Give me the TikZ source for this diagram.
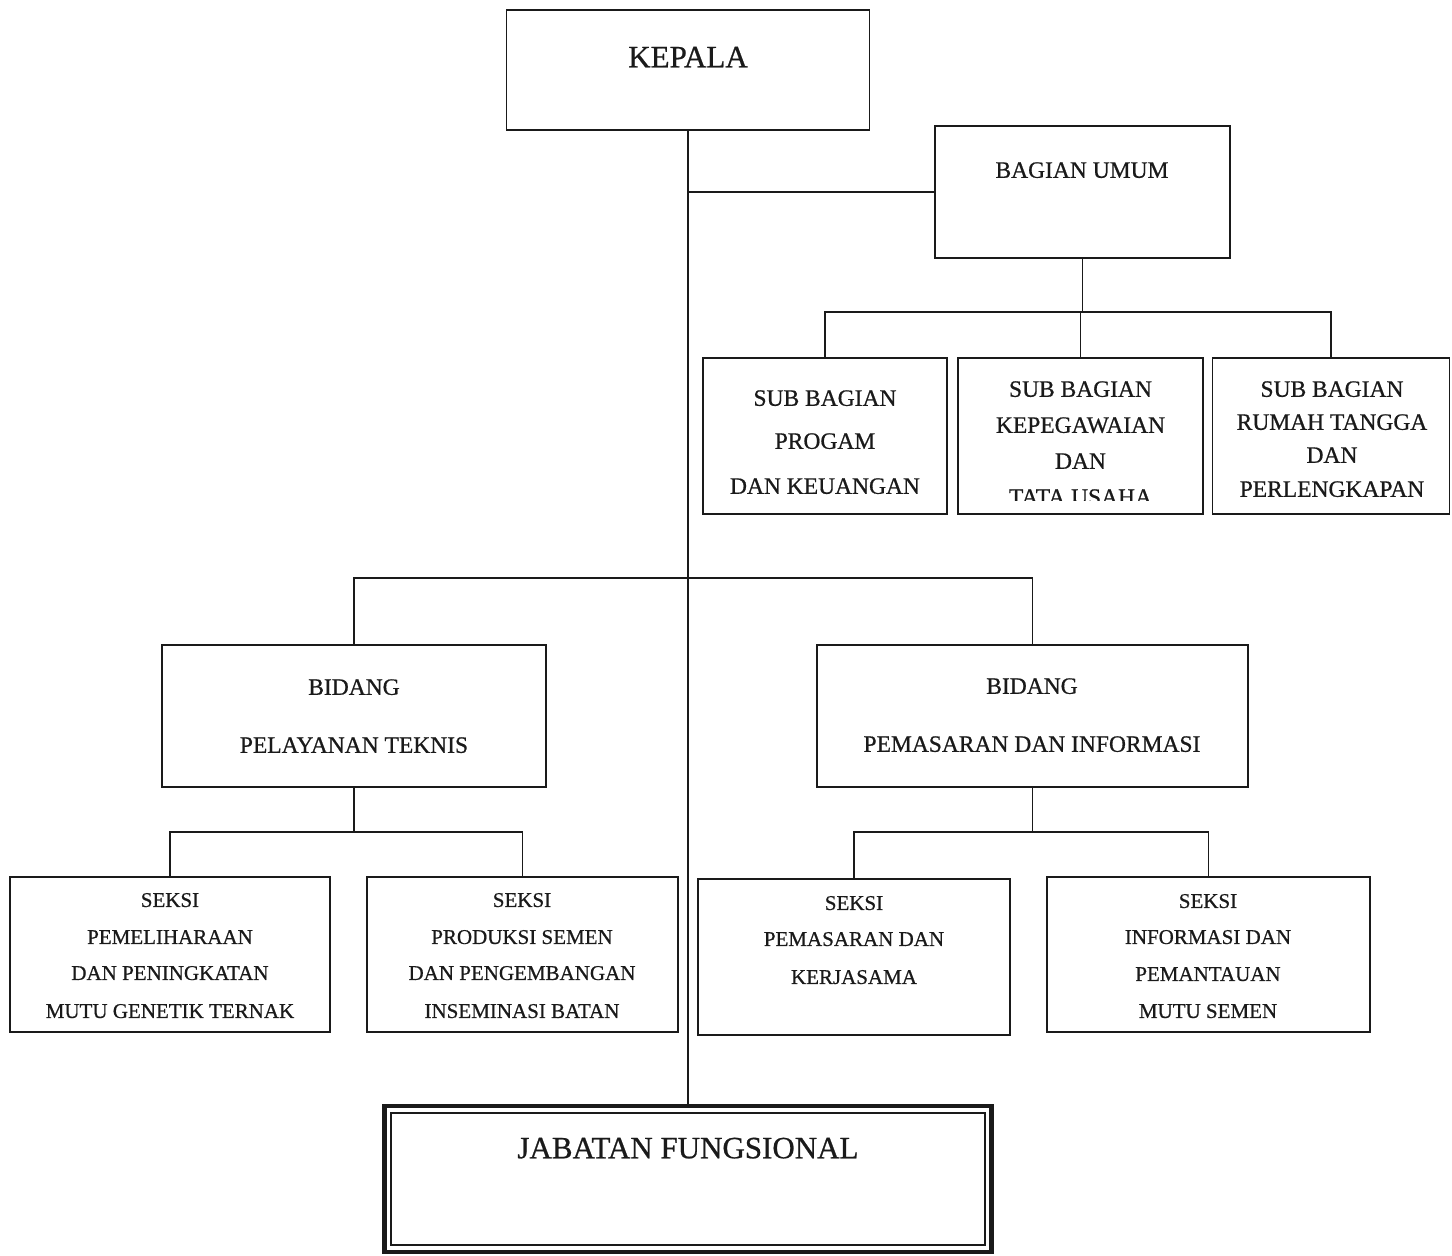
\documentclass[tikz,border=0pt]{standalone}
\usepackage{fontspec}
\setmainfont{Liberation Serif}[BoldFont=Liberation Serif,BoldFeatures={FakeBold=0.7}]
\definecolor{ink}{HTML}{1A1A1A}
\begin{document}
\begin{tikzpicture}[x=1pt,y=-1pt,
  box/.style={draw=ink,line width=1.8pt,rectangle,inner sep=0pt},
  conn/.style={draw=ink,line width=1.8pt},
  big/.style={inner sep=0pt,text=ink,text height=20.5pt,text depth=0pt,font=\fontsize{31}{31}\selectfont\bfseries},
  mid/.style={inner sep=0pt,text=ink,text height=15.6pt,text depth=0pt,font=\fontsize{23.5}{23.5}\selectfont\bfseries},
  sml/.style={inner sep=0pt,text=ink,text height=13.9pt,text depth=0pt,font=\fontsize{21}{21}\selectfont\bfseries}]
\useasboundingbox (0,0) rectangle (1452,1256);
% boxes
\node[box,minimum width=363pt,minimum height=120pt] (kepala) at (688,70) {};
\node[box,minimum width=295pt,minimum height=132pt] (umum) at (1082.5,192) {};
\node[box,minimum width=244pt,minimum height=156pt] (sb1) at (825,436) {};
\node[box,minimum width=245pt,minimum height=156pt] (sb2) at (1080.5,436) {};
\node[box,minimum width=237pt,minimum height=156pt] (sb3) at (1331,436) {};
\node[box,minimum width=384pt,minimum height=142pt] (bpt) at (354,716) {};
\node[box,minimum width=431pt,minimum height=142pt] (bpi) at (1032.5,716) {};
\node[box,minimum width=320pt,minimum height=155pt] (s1) at (170,954.5) {};
\node[box,minimum width=311pt,minimum height=155pt] (s2) at (522.5,954.5) {};
\node[box,minimum width=312pt,minimum height=156pt] (s3) at (854,957) {};
\node[box,minimum width=323pt,minimum height=155pt] (s4) at (1208.5,954.5) {};
\node[box,line width=4.5pt,minimum width=607pt,minimum height=146pt] (jab) at (688,1179) {};
\draw[ink,line width=1.8pt] ([shift={(9,9)}]jab.north west) rectangle ([shift={(-9,-9)}]jab.south east);
% junction coordinates
\coordinate (j1) at (1082.5,312);
\coordinate (j2) at (688,578);
\coordinate (j3) at (354,832);
\coordinate (j4) at (1032.5,832);
% connectors
\draw[conn] (kepala.south) -- (jab.north);
\draw[conn] (umum.west) -- (umum.west -| kepala.south);
\draw[conn] (umum.south) -- (j1);
\draw[conn] (sb1.north) |- (j1) -| (sb3.north);
\draw[conn] (sb2.north) -- (sb2.north |- j1);
\draw[conn] (bpt.north) |- (j2) -| (bpi.north);
\draw[conn] (bpt.south) -- (j3);
\draw[conn] (s1.north) |- (j3) -| (s2.north);
\draw[conn] (bpi.south) -- (j4);
\draw[conn] (s3.north) |- (j4) -| (s4.north);
% texts
\node[big] at (688,57) {KEPALA};
\node[mid] at (1082,170) {BAGIAN UMUM};
\node[mid] at (825,398) {SUB BAGIAN};
\node[mid] at (825,441) {PROGAM};
\node[mid] at (825,486) {DAN KEUANGAN};
\node[mid] at (1080.5,389) {SUB BAGIAN};
\node[mid] at (1080.5,425) {KEPEGAWAIAN};
\node[mid] at (1080.5,461) {DAN};
\begin{scope}
\clip (960,470) rectangle (1200,500);
\node[mid] at (1080.5,497) {TATA USAHA};
\end{scope}
\node[mid] at (1332,389) {SUB BAGIAN};
\node[mid] at (1332,422) {RUMAH TANGGA};
\node[mid] at (1332,455) {DAN};
\node[mid] at (1332,489) {PERLENGKAPAN};
\node[mid] at (354,687) {BIDANG};
\node[mid] at (354,745) {PELAYANAN TEKNIS};
\node[mid] at (1032,686) {BIDANG};
\node[mid] at (1032,744) {PEMASARAN DAN INFORMASI};
\node[sml] at (170,900) {SEKSI};
\node[sml] at (170,937) {PEMELIHARAAN};
\node[sml] at (170,973) {DAN PENINGKATAN};
\node[sml] at (170,1011) {MUTU GENETIK TERNAK};
\node[sml] at (522,900) {SEKSI};
\node[sml] at (522,937) {PRODUKSI SEMEN};
\node[sml] at (522,973) {DAN PENGEMBANGAN};
\node[sml] at (522,1011) {INSEMINASI BATAN};
\node[sml] at (854,903) {SEKSI};
\node[sml] at (854,939) {PEMASARAN DAN};
\node[sml] at (854,977) {KERJASAMA};
\node[sml] at (1208,901) {SEKSI};
\node[sml] at (1208,937) {INFORMASI DAN};
\node[sml] at (1208,974) {PEMANTAUAN};
\node[sml] at (1208,1011) {MUTU SEMEN};
\node[big] at (688,1148) {JABATAN FUNGSIONAL};
\end{tikzpicture}
\end{document}
